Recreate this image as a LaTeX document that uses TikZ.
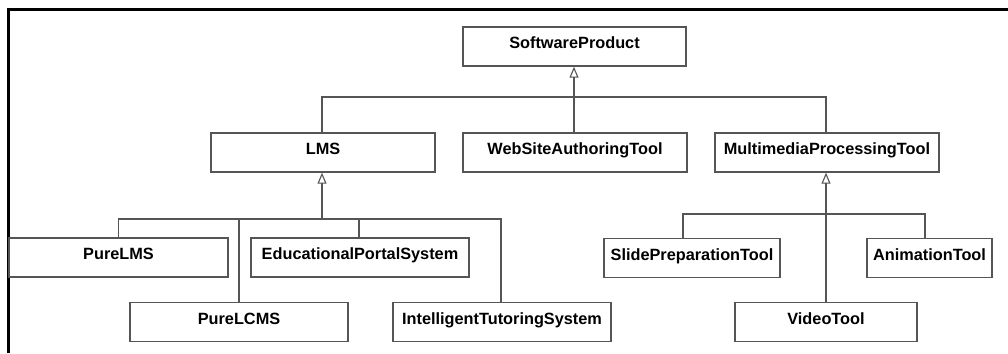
\documentclass[tikz,border=0pt]{standalone}
\usepackage{fontspec}
\setmainfont{Liberation Sans}
\usetikzlibrary{arrows.meta}
\definecolor{umlgray}{HTML}{555555}
\tikzset{
  cls/.style={draw=umlgray, line width=1.4pt, fill=white, inner sep=0pt,
    minimum height=39pt, text height=12pt, text depth=8pt,
    font=\bfseries\fontsize{16.3}{18}\selectfont},
  link/.style={draw=umlgray, line width=1.2pt},
  inh/.style={link, -{Triangle[open, length=11pt, width=9pt, line width=1.1pt]}},
}
\begin{document}
\begin{tikzpicture}[x=1pt, y=-1pt]
\useasboundingbox (0,0) rectangle (1008,353);
\fill[white] (0,0) rectangle (1008,353);
% frame
\draw[black, line width=3pt] (8,353) -- (8,10) -- (1008,10);
% classes
\node[cls, minimum width=223pt] (sp) at (574.5,46.5) {SoftwareProduct};
\node[cls, minimum width=224pt] (lms) at (323,152.5) {LMS};
\node[cls, minimum width=224pt] (wsat) at (575,152.5) {WebSiteAuthoringTool};
\node[cls, minimum width=224pt] (mpt) at (827,152.5) {MultimediaProcessingTool};
\node[cls, minimum width=219pt] (plms) at (118.5,257.5) {PureLMS};
\node[cls, minimum width=218pt] (eps) at (360,257.5) {EducationalPortalSystem};
\node[cls, minimum width=218pt] (plcms) at (239,322) {PureLCMS};
\node[cls, minimum width=218pt] (its) at (502,322) {IntelligentTutoringSystem};
\node[cls, minimum width=176pt] (spt) at (692,258) {SlidePreparationTool};
\node[cls, minimum width=125pt] (at) at (929.5,258) {AnimationTool};
\node[cls, minimum width=182pt] (vt) at (826,322) {VideoTool};
% junctions
\coordinate (j0) at (574,97);
\coordinate (j1) at (322,219);
\coordinate (j2) at (826,214);
% top level
\draw[link] (lms.north -| 322,0) |- (j0) -| (mpt.north -| 826,0);
\draw[inh] (wsat.north -| j0) -- (sp.south -| j0);
% LMS subclasses
\draw[link] (plms.north) |- (j1);
\draw[link] (j1) -| (its.north -| 501,0);
\draw[link] (plcms.north) -- (plcms.north |- j1);
\draw[link] (eps.north -| 359,0) -- (359,219);
\draw[inh] (j1) -- (lms.south -| j1);
% MPT subclasses
\draw[link] (spt.north -| 683,0) |- (j2) -| (at.north -| 925,0);
\draw[inh] (vt.north -| j2) -- (mpt.south -| j2);
\end{tikzpicture}
\end{document}
